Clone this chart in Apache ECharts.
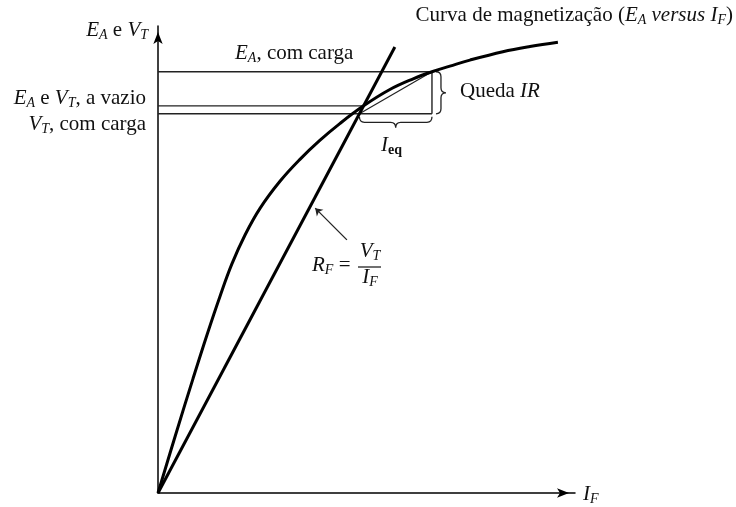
<!DOCTYPE html>
<html>
<head>
<meta charset="utf-8">
<title>Curva de magnetização</title>
<script src="https://cdn.jsdelivr.net/npm/echarts/dist/echarts.min.js"></script>
<style>
  html, body { margin: 0; padding: 0; background: #ffffff; }
  #chart { width: 736px; height: 507px; }
</style>
</head>
<body>
<div id="chart"></div>
<script>
// Magnetization curve E_A versus I_F (arbitrary units, 0..100 on both axes)
const magIF = [0, 4.3, 8.4, 11.8, 14.9, 17.7, 20.9, 24.5, 29.3, 34.1, 38.8, 43.6, 49.3, 55.6, 61.2, 65.7, 70.0, 74.8, 82.7, 89.2, 95.9];
const magEA = [0, 12.7, 24.5, 34.0, 42.2, 49.0, 55.3, 61.0, 66.8, 71.5, 75.5, 79.1, 82.9, 86.4, 88.7, 90.2, 91.4, 92.7, 94.5, 95.6, 96.5];

// Field resistance line R_F = V_T / I_F (through the origin)
const fieldLineIF = [0, 56.8];
const fieldLineV = [0, 95.5];

// Operating levels
const eaLoad = 90.2;     // E_A, com carga
const vtNoLoad = 82.9;   // E_A e V_T, a vazio
const vtLoad = 81.2;     // V_T, com carga
const ifNoLoad = 49.3;   // I_F at no load (curve meets R_F line)
const ifLoad = 48.3;     // I_F under load (on R_F line)
const ifEA = 65.7;       // effective field current giving E_A under load

// Pointer towards the R_F line: [tail, tip]
const pointerIF = [45.3, 37.7];
const pointerV = [54.2, 61.0];

const FONT = '"Liberation Serif", "Times New Roman", serif';
const INK = '#111';

const rich = {
  r:  { fontFamily: FONT, fontSize: 21, fill: INK, lineHeight: 24 },
  i:  { fontFamily: FONT, fontSize: 21, fill: INK, lineHeight: 24, fontStyle: 'italic' },
  s:  { fontFamily: FONT, fontSize: 14, fill: INK, lineHeight: 10, fontStyle: 'italic', verticalAlign: 'bottom' },
  se: { fontFamily: FONT, fontSize: 14, fill: INK, lineHeight: 10, fontWeight: 'bold', verticalAlign: 'bottom' }
};

function label(x, y, text, align) {
  return {
    type: 'text', x: x, y: y, silent: true,
    style: {
      text: text, rich: rich,
      fontFamily: FONT, fontSize: 21, fill: INK,
      align: align, textAlign: align,
      verticalAlign: 'middle', textVerticalAlign: 'middle'
    }
  };
}

function seg(xs, ys, width, color) {
  return {
    type: 'line', data: xs.map((x, k) => [x, ys[k]]),
    showSymbol: false, silent: true, animation: false,
    lineStyle: { width: width, color: color }
  };
}

const THIN = '#222';

const chart = echarts.init(document.getElementById('chart'), null, { renderer: 'canvas' });

function braceH(params, api) {
  // curly brace under a horizontal segment, pointing down
  const a = api.coord([api.value(0), api.value(2)]);
  const b = api.coord([api.value(1), api.value(2)]);
  const x1 = a[0], x2 = b[0], y0 = a[1] + 3, d = 11, q = 5;
  const xm = (x1 + x2) / 2, ym = y0 + d / 2;
  const p = 'M' + x1 + ',' + y0 +
    ' Q' + x1 + ',' + ym + ' ' + (x1 + q) + ',' + ym +
    ' L' + (xm - q) + ',' + ym +
    ' Q' + xm + ',' + ym + ' ' + xm + ',' + (y0 + d) +
    ' Q' + xm + ',' + ym + ' ' + (xm + q) + ',' + ym +
    ' L' + (x2 - q) + ',' + ym +
    ' Q' + x2 + ',' + ym + ' ' + x2 + ',' + y0;
  return { type: 'path', shape: { pathData: p }, style: { fill: 'none', stroke: THIN, lineWidth: 1.3 } };
}

function braceV(params, api) {
  // curly brace right of a vertical segment, pointing right
  const a = api.coord([api.value(0), api.value(1)]);
  const b = api.coord([api.value(0), api.value(2)]);
  const y1 = a[1], y2 = b[1], x0 = a[0] + 4, d = 10, q = 5;
  const ym = (y1 + y2) / 2, xm = x0 + d / 2;
  const p = 'M' + x0 + ',' + y1 +
    ' Q' + xm + ',' + y1 + ' ' + xm + ',' + (y1 - q) +
    ' L' + xm + ',' + (ym + q) +
    ' Q' + xm + ',' + ym + ' ' + (x0 + d) + ',' + ym +
    ' Q' + xm + ',' + ym + ' ' + xm + ',' + (ym - q) +
    ' L' + xm + ',' + (y2 + q) +
    ' Q' + xm + ',' + y2 + ' ' + x0 + ',' + y2;
  return { type: 'path', shape: { pathData: p }, style: { fill: 'none', stroke: THIN, lineWidth: 1.3 } };
}

const option = {
  backgroundColor: '#ffffff',
  animation: false,
  grid: { left: 158, top: 26, right: 161, bottom: 14, containLabel: false },
  xAxis: {
    type: 'value', min: 0, max: 100,
    axisLine: { show: true, symbol: ['none', 'arrow'], symbolSize: [7, 12], symbolOffset: [0, -6],
                lineStyle: { color: '#000', width: 1.5 } },
    axisTick: { show: false }, axisLabel: { show: false }, splitLine: { show: false }
  },
  yAxis: {
    type: 'value', min: 0, max: 100,
    axisLine: { show: true, symbol: ['none', 'arrow'], symbolSize: [7, 12], symbolOffset: [0, -6],
                lineStyle: { color: '#000', width: 1.5 } },
    axisTick: { show: false }, axisLabel: { show: false }, splitLine: { show: false }
  },
  series: [
    // level lines
    seg([0, ifEA], [eaLoad, eaLoad], 1.4, THIN),
    seg([0, ifNoLoad], [vtNoLoad, vtNoLoad], 1.4, THIN),
    seg([0, ifEA], [vtLoad, vtLoad], 1.4, THIN),
    seg([ifEA, ifEA], [vtLoad, eaLoad], 1.4, THIN),
    seg([ifLoad, ifEA], [vtLoad, eaLoad], 1.2, THIN),
    // field resistance line
    seg(fieldLineIF, fieldLineV, 3, '#000'),
    // magnetization curve
    Object.assign(seg(magIF, magEA, 3, '#000'), { smooth: 0.4 }),
    // pointer arrow
    {
      type: 'lines', coordinateSystem: 'cartesian2d', silent: true, animation: false,
      symbol: ['none', 'arrow'], symbolSize: 7,
      lineStyle: { color: THIN, width: 1.3, opacity: 1 },
      data: [{ coords: [[pointerIF[0], pointerV[0]], [pointerIF[1], pointerV[1]]] }]
    },
    // braces
    { type: 'custom', silent: true, animation: false, renderItem: braceH, data: [[ifLoad, ifEA, vtLoad]] },
    { type: 'custom', silent: true, animation: false, renderItem: braceV, data: [[ifEA, vtLoad, eaLoad]] }
  ],
  graphic: [
    label(148, 30, '{i|E}{s|A}{r| e }{i|V}{s|T}', 'right'),
    label(235, 53, '{i|E}{s|A}{r|, com carga}', 'left'),
    label(146, 98, '{i|E}{s|A}{r| e }{i|V}{s|T}{r|, a vazio}', 'right'),
    label(146, 124, '{i|V}{s|T}{r|, com carga}', 'right'),
    label(733, 15, '{r|Curva de magnetização (}{i|E}{s|A}{r| }{i|versus}{r| }{i|I}{s|F}{r|)}', 'right'),
    label(460, 91, '{r|Queda }{i|IR}', 'left'),
    label(381, 145, '{i|I}{se|eq}', 'left'),
    label(583, 494, '{i|I}{s|F}', 'left'),
    label(312, 265, '{i|R}{s|F}{r| =}', 'left'),
    label(370, 251, '{i|V}{s|T}', 'center'),
    label(370, 277, '{i|I}{s|F}', 'center'),
    { type: 'line', silent: true, shape: { x1: 358, y1: 267, x2: 381, y2: 267 }, style: { stroke: INK, lineWidth: 1.2 } }
  ]
};

chart.setOption(option);
</script>
</body>
</html>
